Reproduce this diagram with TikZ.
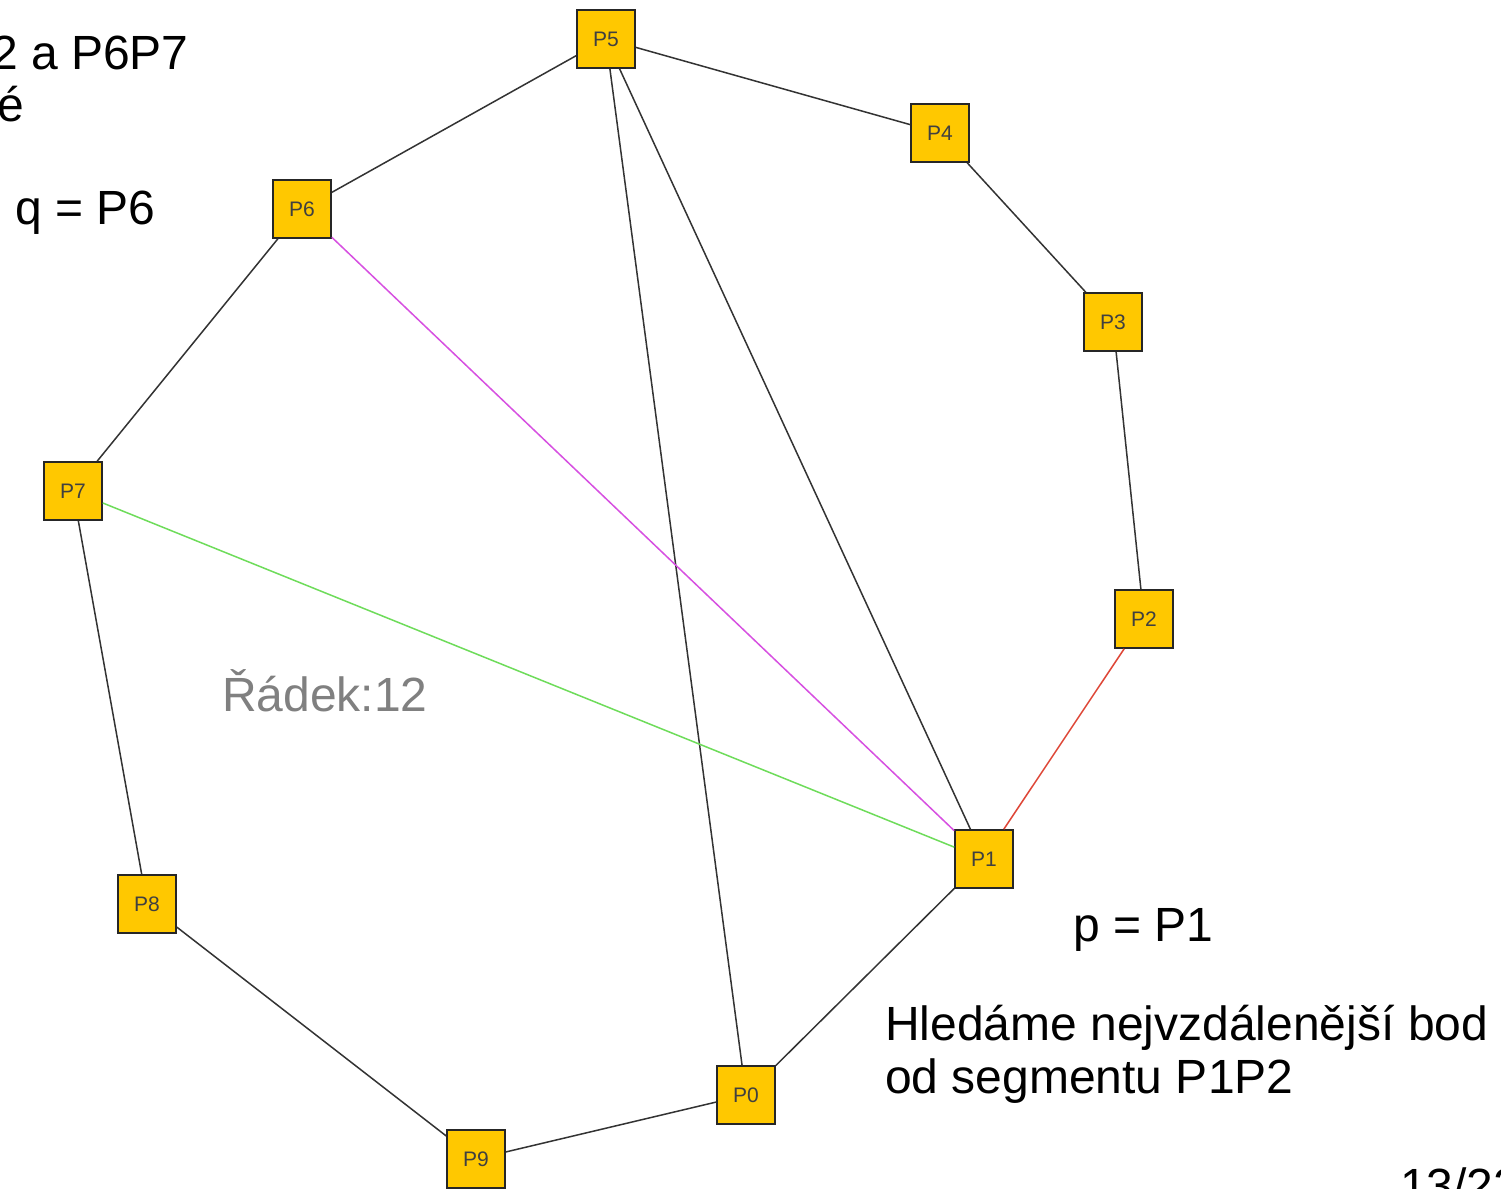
\documentclass[tikz,border=0pt]{standalone}
\usepackage{fontspec}
\setmainfont{Liberation Sans}
\usepackage{xcolor}
\usepackage{tikz}
\definecolor{ptfill}{RGB}{255,200,0}
\definecolor{hullred}{RGB}{222,70,55}
\definecolor{qmagenta}{RGB}{215,80,225}
\definecolor{lgreen}{RGB}{110,220,90}

\begin{document}
\begin{tikzpicture}[
  x=1pt, y=-1pt,
  point/.style={rectangle, draw=black!85, line width=1.6pt, fill=ptfill,
    minimum size=58pt, inner sep=0pt, text=black!75,
    font=\fontsize{21}{21}\selectfont},
  edge/.style={draw=black!80, line width=1.5pt},
  note/.style={anchor=base west, inner sep=0pt, align=left,
    font=\fontsize{48}{53}\selectfont}
]
\useasboundingbox (0,0) rectangle (1501,1188);
\clip (0,0) rectangle (1501,1188);
\fill[white] (0,0) rectangle (1501,1188);
% points
\node[point] (p0) at (746,1095) {P0};
\node[point] (p1) at (984,859) {P1};
\node[point] (p2) at (1144,619) {P2};
\node[point] (p3) at (1113,322) {P3};
\node[point] (p4) at (940,133) {P4};
\node[point] (p5) at (606,39) {P5};
\node[point] (p6) at (302,209) {P6};
\node[point] (p7) at (73,491) {P7};
\node[point] (p8) at (147,904) {P8};
\node[point] (p9) at (476,1159) {P9};
% hull
\draw[edge] (p0) -- (p1);
\draw[edge, draw=hullred] (p1) -- (p2);
\draw[edge] (p2) -- (p3);
\draw[edge] (p3) -- (p4);
\draw[edge] (p4) -- (p5);
\draw[edge] (p5) -- (p6);
\draw[edge] (p6) -- (p7);
\draw[edge] (p7) -- (p8);
\draw[edge] (p8) -- (p9);
\draw[edge] (p9) -- (p0);
% diagonals
\draw[edge] (p5) -- (p0);
\draw[edge] (p5) -- (p1);
\draw[edge, draw=qmagenta] (p6) -- (p1);
\draw[edge, draw=lgreen] (p7) -- (p1);
% texts
\node[note] (t1) at (-9,70) {2 a P6P7};
\node[note] (t2) at (-3,122) {é};
\node[note] (tq) at (15,224) {q = P6};
\node[note] (tp) at (1073,941) {p = P1};
\node[note, text=black!50] (row) at (222,711) {Řádek:12};
\node[note] (find) at (885,1093) {Hledáme nejvzdálenější bod\\od segmentu P1P2};
\node[note] (page) at (1400,1202) {13/22};
\end{tikzpicture}
\end{document}
